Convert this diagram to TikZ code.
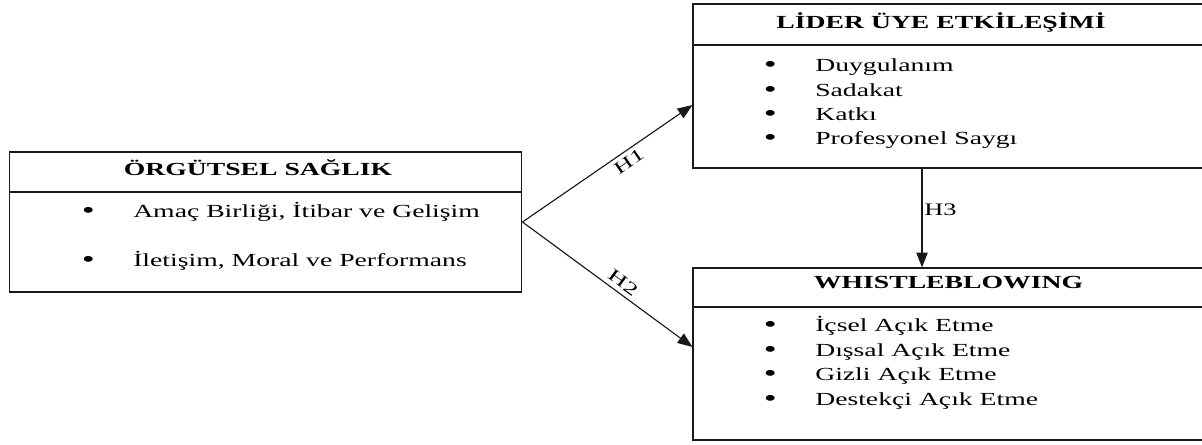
\documentclass[tikz,border=0pt]{standalone}
\usepackage{fontspec}
\setmainfont{Liberation Serif}[FakeStretch=1.5]
\usetikzlibrary{arrows.meta}
\usetikzlibrary{positioning}
\newcommand{\bul}{\raisebox{-0.6pt}{\fontsize{14}{14}\selectfont\textbullet}\hspace{0.77cm}}

\begin{document}
\begin{tikzpicture}[x=0.02cm, y=-0.02cm,
    box/.style={draw=black!90, line width=0.65pt, minimum width=10.22cm, inner sep=0pt},
    head/.style={anchor=base, inner sep=0pt, font=\fontsize{10.5}{14}\selectfont\bfseries},
    item/.style={anchor=base west, inner sep=0pt, font=\fontsize{10.5}{14}\selectfont},
    hyp/.style={draw=black!90, line width=0.65pt, -{Triangle[length=8.5pt, width=6.5pt]}},
    hlabel/.style={inner sep=2.5pt, font=\fontsize{10}{11}\selectfont}]

    \useasboundingbox (0,0) rectangle (1202,444);

    % boxes
    \node[box, minimum width=10.25cm, minimum height=2.8cm] (org) at (265.7,222) {};
    \node[box, minimum height=3.28cm] (lmx) at (948.5,86) {};
    \node[box, minimum height=3.44cm] (wb) at (948.5,354) {};

    \draw[black!90, line width=0.65pt] (org.west |- 0,192) -- (org.east |- 0,192);
    \draw[black!90, line width=0.65pt] (lmx.west |- 0,45) -- (lmx.east |- 0,45);
    \draw[black!90, line width=0.65pt] (wb.west |- 0,307) -- (wb.east |- 0,307);

    % headers
    \node[head] (orgh) at (258,175) {ÖRGÜTSEL SAĞLIK};
    \node[head] (lmxh) at (941,28) {LİDER ÜYE ETKİLEŞİMİ};
    \node[head] (wbh) at (948.5,288) {WHISTLEBLOWING};

    % items
    \node[item] (org1) at (81.5,217) {\bul Amaç Birliği, İtibar ve Gelişim};
    \node[item] (org2) at (81.5,266) {\bul İletişim, Moral ve Performans};

    \node[item] (lmx1) at (763.5,71)  {\bul Duygulanım};
    \node[item] (lmx2) at (763.5,96)  {\bul Sadakat};
    \node[item] (lmx3) at (763.5,120) {\bul Katkı};
    \node[item] (lmx4) at (763.5,144) {\bul Profesyonel Saygı};

    \node[item] (wb1) at (763.5,331) {\bul İçsel Açık Etme};
    \node[item] (wb2) at (763.5,356) {\bul Dışsal Açık Etme};
    \node[item] (wb3) at (763.5,380) {\bul Gizli Açık Etme};
    \node[item] (wb4) at (763.5,405) {\bul Destekçi Açık Etme};

    % hypotheses
    \coordinate (h1end) at (lmx.west |- 0,105);
    \coordinate (h2end) at (wb.west |- 0,347);
    \coordinate (h3top) at (lmx.south -| 922,0);
    \coordinate (h3bot) at (wb.north -| 922,0);

    \draw[hyp] (org.east) -- (h1end)
    node[hlabel, pos=0.59, rotate=34.4, anchor=north] (h1) {H1};
    \draw[hyp] (org.east) -- (h2end)
    node[hlabel, pos=0.555, rotate=-36.2, anchor=south] (h2) {H2};
    \draw[hyp] (h3top) -- (h3bot)
    node[hlabel, pos=0.42, anchor=west, inner sep=1pt] (h3) {H3};
\end{tikzpicture}
\end{document}
